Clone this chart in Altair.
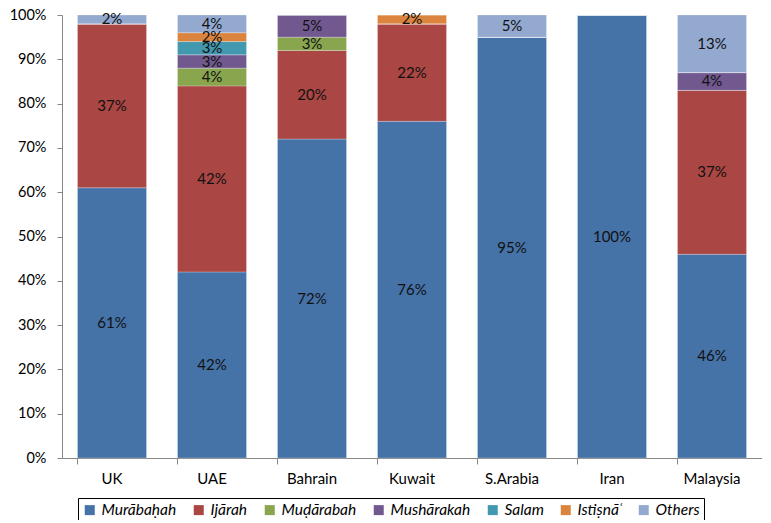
import altair as alt
import pandas as pd

countries = ["UK", "UAE", "Bahrain", "Kuwait", "S.Arabia", "Iran", "Malaysia"]
types = ["Murābaḥah", "Ijārah", "Muḍārabah", "Mushārakah", "Salam", "Istiṣnāʿ", "Others"]
murabahah = [61, 42, 72, 76, 95, 100, 46]
ijarah = [37, 42, 20, 22, 0, 0, 37]
mudarabah = [0, 4, 3, 0, 0, 0, 0]
musharakah = [0, 3, 5, 0, 0, 0, 4]
salam = [0, 3, 0, 0, 0, 0, 0]
istisna = [0, 2, 0, 2, 0, 0, 0]
others = [2, 4, 0, 0, 5, 0, 13]
colors = ["#4572A7", "#AA4643", "#89A54E", "#71588F", "#4198AF", "#DB843D", "#93A9CF"]

series = [murabahah, ijarah, mudarabah, musharakah, salam, istisna, others]
rows = []
for ti, (t, vals) in enumerate(zip(types, series)):
    for c, v in zip(countries, vals):
        rows.append({"country": c, "type": t, "value": v, "order": ti})
df = pd.DataFrame(rows)

FONT = "Lato"

x_enc = alt.X(
    "country:N", sort=countries, title=None,
    scale=alt.Scale(paddingInner=0.31, paddingOuter=0.155),
    axis=alt.Axis(labelAngle=0, bandPosition=0, tickSize=6, labelPadding=7,
                  domainColor="#868686", tickColor="#868686", labelColor="#000000",
                  labelFontSize=15, labelFont=FONT, grid=False),
)

bars = alt.Chart(df).mark_bar(stroke="white", strokeWidth=0.5, strokeOpacity=0.5).encode(
    x=x_enc,
    y=alt.Y(
        "value:Q", stack="zero", title=None,
        scale=alt.Scale(domain=[0, 100], nice=False),
        axis=alt.Axis(values=list(range(0, 101, 10)), labelExpr="datum.value + '%'",
                      tickSize=5, domainColor="#868686", tickColor="#868686",
                      labelColor="#000000", labelFontSize=14.5, labelFont=FONT,
                      labelPadding=11, grid=False),
    ),
    color=alt.Color(
        "type:N", scale=alt.Scale(domain=types, range=colors),
        legend=alt.Legend(title=None, orient="none", legendX=16, legendY=483,
                          direction="horizontal", columns=7, strokeColor="black",
                          padding=4, symbolType="square", symbolSize=100,
                          symbolStrokeWidth=0, labelFontSize=15.5, labelFontStyle="italic",
                          labelFont=FONT, labelColor="#000000", columnPadding=14,
                          labelOffset=4),
    ),
    order=alt.Order("order:Q"),
)

labels = alt.Chart(df).transform_filter("datum.value > 0").transform_stack(
    stack="value", groupby=["country"], as_=["y0", "y1"],
    sort=[alt.SortField("order", order="ascending")],
).transform_calculate(
    mid="(datum.y0 + datum.y1) / 2", label="datum.value + '%'"
).mark_text(font=FONT, fontSize=15, color="#111111").encode(
    x=alt.X("country:N", sort=countries),
    y=alt.Y("mid:Q"),
    text="label:N",
)

chart = alt.layer(bars, labels).properties(
    width=700, height=443,
    autosize=alt.AutoSizeParams(type="none"),
    padding={"left": 54, "top": 7, "right": 0, "bottom": 62},
).configure_view(stroke=None)

chart.save("out.html", embed_options={"renderer": "svg", "actions": False})
